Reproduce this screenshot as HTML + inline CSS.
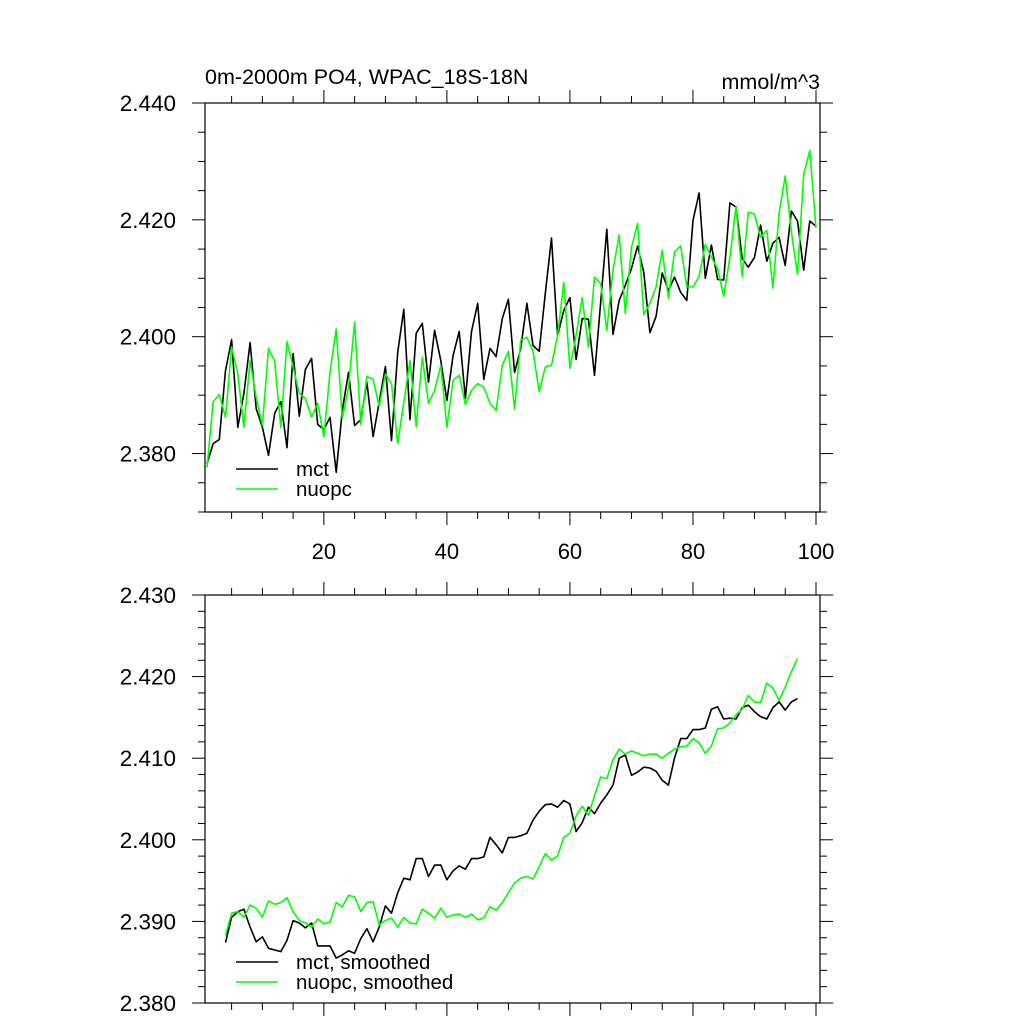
<!DOCTYPE html>
<html><head><meta charset="utf-8"><style>
body{margin:0;background:#fff;}
svg{display:block;font-family:"Liberation Sans",sans-serif;}
</style></head><body>
<svg id="c" width="1024" height="1024">
<text x="205" y="84" font-size="21.5">0m-2000m PO4, WPAC_18S-18N</text>
<text x="820" y="89" font-size="21.5" text-anchor="end">mmol/m^3</text>
</svg>
<script>
const topMct=[2.3783,2.3817,2.3824,2.3942,2.3995,2.3845,2.3903,2.3990,2.3877,2.3845,2.3797,2.3869,2.3889,2.3810,2.3971,2.3864,2.3944,2.3963,2.3850,2.3841,2.3862,2.3768,2.3874,2.3939,2.3848,2.3858,2.3922,2.3829,2.3888,2.3949,2.3822,2.3973,2.4047,2.3858,2.4006,2.4023,2.3922,2.4011,2.3959,2.3891,2.3968,2.4009,2.3894,2.4009,2.4057,2.3927,2.3980,2.3966,2.4031,2.4064,2.3939,2.3980,2.4057,2.3985,2.3975,2.4074,2.4169,2.4002,2.4045,2.4067,2.3961,2.4031,2.4030,2.3934,2.4059,2.4184,2.4004,2.4062,2.4088,2.4117,2.4155,2.4110,2.4007,2.4035,2.4109,2.4079,2.4102,2.4076,2.4062,2.4199,2.4246,2.4100,2.4157,2.4098,2.4097,2.4229,2.4222,2.4134,2.4119,2.4136,2.4191,2.4129,2.4160,2.4170,2.4122,2.4215,2.4198,2.4114,2.4198,2.4189];
const topNuopc=[2.3776,2.3889,2.3901,2.3862,2.3982,2.3937,2.3845,2.3959,2.3896,2.3848,2.3980,2.3958,2.3845,2.3992,2.3948,2.3903,2.3894,2.3862,2.3886,2.3829,2.3939,2.4013,2.3860,2.3913,2.4025,2.3850,2.3932,2.3927,2.3881,2.3936,2.3920,2.3817,2.3888,2.3959,2.3846,2.3965,2.3886,2.3908,2.3951,2.3845,2.3925,2.3934,2.3884,2.3908,2.3920,2.3913,2.3886,2.3874,2.3951,2.3975,2.3876,2.3994,2.3999,2.3975,2.3906,2.3948,2.3951,2.4002,2.4093,2.3946,2.4002,2.4067,2.3982,2.4102,2.4091,2.4011,2.4114,2.4174,2.4040,2.4153,2.4194,2.4038,2.4057,2.4085,2.4148,2.4066,2.4145,2.4155,2.4086,2.4085,2.4103,2.4158,2.4136,2.4117,2.4069,2.4136,2.4223,2.4103,2.4213,2.4210,2.4170,2.4182,2.4083,2.4211,2.4275,2.4179,2.4107,2.4278,2.4319,2.4186];
const botMct=[2.3874,2.3905,2.3912,2.3915,2.3893,2.3875,2.3881,2.3867,2.3865,2.3863,2.3877,2.3901,2.3898,2.3892,2.3898,2.3870,2.3870,2.3870,2.3855,2.3859,2.3864,2.3861,2.3879,2.3891,2.3875,2.3893,2.3919,2.3910,2.3935,2.3953,2.3951,2.3977,2.3977,2.3955,2.3969,2.3969,2.3951,2.3962,2.3968,2.3964,2.3977,2.3977,2.3979,2.4003,2.3994,2.3984,2.4003,2.4003,2.4005,2.4008,2.4024,2.4035,2.4043,2.4044,2.4040,2.4048,2.4044,2.4010,2.4021,2.4040,2.4032,2.4045,2.4055,2.4067,2.4100,2.4104,2.4079,2.4083,2.4089,2.4088,2.4084,2.4073,2.4067,2.4100,2.4124,2.4124,2.4135,2.4135,2.4137,2.4160,2.4163,2.4148,2.4149,2.4148,2.4162,2.4165,2.4157,2.4151,2.4148,2.4162,2.4169,2.4159,2.4169,2.4173];
const botNuopc=[2.3883,2.3910,2.3912,2.3905,2.3920,2.3916,2.3905,2.3925,2.3921,2.3923,2.3929,2.3912,2.3901,2.3898,2.3893,2.3903,2.3897,2.3899,2.3923,2.3918,2.3932,2.3930,2.3912,2.3923,2.3924,2.3896,2.3901,2.3904,2.3893,2.3905,2.3898,2.3897,2.3915,2.3910,2.3904,2.3916,2.3905,2.3908,2.3909,2.3905,2.3909,2.3902,2.3904,2.3918,2.3914,2.3923,2.3935,2.3947,2.3953,2.3955,2.3952,2.3967,2.3983,2.3975,2.3980,2.4003,2.4008,2.4029,2.4041,2.4030,2.4054,2.4077,2.4075,2.4098,2.4111,2.4105,2.4109,2.4106,2.4103,2.4105,2.4105,2.4100,2.4106,2.4111,2.4114,2.4115,2.4124,2.4119,2.4106,2.4115,2.4136,2.4137,2.4143,2.4153,2.4160,2.4177,2.4169,2.4168,2.4192,2.4186,2.4171,2.4187,2.4206,2.4222];
const xTicks=[20,40,60,80,100];
const topYTicks=["2.440","2.420","2.400","2.380"];
const botYTicks=["2.430","2.420","2.410","2.400","2.390","2.380"];

const NS="http://www.w3.org/2000/svg";
const svg=document.getElementById('c');
function mk(tag,attrs,parent){const e=document.createElementNS(NS,tag);for(const k in attrs)e.setAttribute(k,attrs[k]);(parent||svg).appendChild(e);return e;}
const L=205,R=820;
const xs=v=>207+(v-1)*(816-207)/99;
function panel(name,top,bottom,ymin,ymax,majorStep,minorStep,yLabels,showX){
  const g=mk('g',{});
  
  
  const ys=v=>bottom-(v-ymin)/(ymax-ymin)*(bottom-top);
  const box=mk('rect',{x:L,y:top,width:R-L,height:bottom-top,fill:'none',stroke:'#000','stroke-width':1.2},g);
  
  
  for(let v=5;v<=100;v+=5){
    const maj=v%20===0, len=maj?13:7, x=xs(v);
    mk('line',{x1:x,x2:x,y1:bottom,y2:bottom+len,stroke:'#000','stroke-width':1},g);
    mk('line',{x1:x,x2:x,y1:top,y2:top-len,stroke:'#000','stroke-width':1},g);
  }
  if(showX){
    xTicks.forEach(v=>{const t=mk('text',{x:xs(v),y:bottom+47,'font-size':22,'text-anchor':'middle'},g);t.textContent=v;
      
      });
  }
  const n=Math.round((ymax-ymin)/minorStep);
  for(let i=0;i<=n;i++){
    const v=ymin+i*minorStep, y=ys(v);
    const maj=Math.abs(((ymax-v)/majorStep)-Math.round((ymax-v)/majorStep))<1e-6;
    const len=maj?13:7;
    mk('line',{x1:L,x2:L-len,y1:y,y2:y,stroke:'#000','stroke-width':1},g);
    mk('line',{x1:R,x2:R+len,y1:y,y2:y,stroke:'#000','stroke-width':1},g);
  }
  yLabels.forEach(s=>{const t=mk('text',{x:176,y:ys(parseFloat(s))+8,'font-size':22.5,'text-anchor':'end'},g);t.textContent=s;
    
    });
  return ys;
}
function series(arr,x0,ys,color,name){
  const pts=arr.map((v,i)=>xs(x0+i).toFixed(1)+','+ys(v).toFixed(1)).join(' ');
  const p=mk('polyline',{points:pts,fill:'none',stroke:color,'stroke-width':1.6,'stroke-linejoin':'round'});
  
  
}
function legend(y,color,label,name){
  const g=mk('g',{});
  
  
  mk('line',{x1:236,x2:278,y1:y,y2:y,stroke:color,'stroke-width':1.6},g);
  const t=mk('text',{x:296,y:y+7,'font-size':20.5},g);t.textContent=label;
}
const ysT=panel('top-panel',103,512,2.370,2.440,0.02,0.005,topYTicks,true);
series(topMct,1,ysT,'#000','top-mct-line');
series(topNuopc,1,ysT,'#00ff00','top-nuopc-line');
legend(469,'#000','mct','legend-mct');
legend(489,'#00ff00','nuopc','legend-nuopc');
const ysB=panel('bottom-panel',595,1003,2.380,2.430,0.01,0.002,botYTicks,false);
series(botMct,4,ysB,'#000','bottom-mct-smoothed-line');
series(botNuopc,4,ysB,'#00ff00','bottom-nuopc-smoothed-line');
legend(962,'#000','mct, smoothed','legend-mct-smoothed');
legend(982,'#00ff00','nuopc, smoothed','legend-nuopc-smoothed');
</script>
</body></html>
